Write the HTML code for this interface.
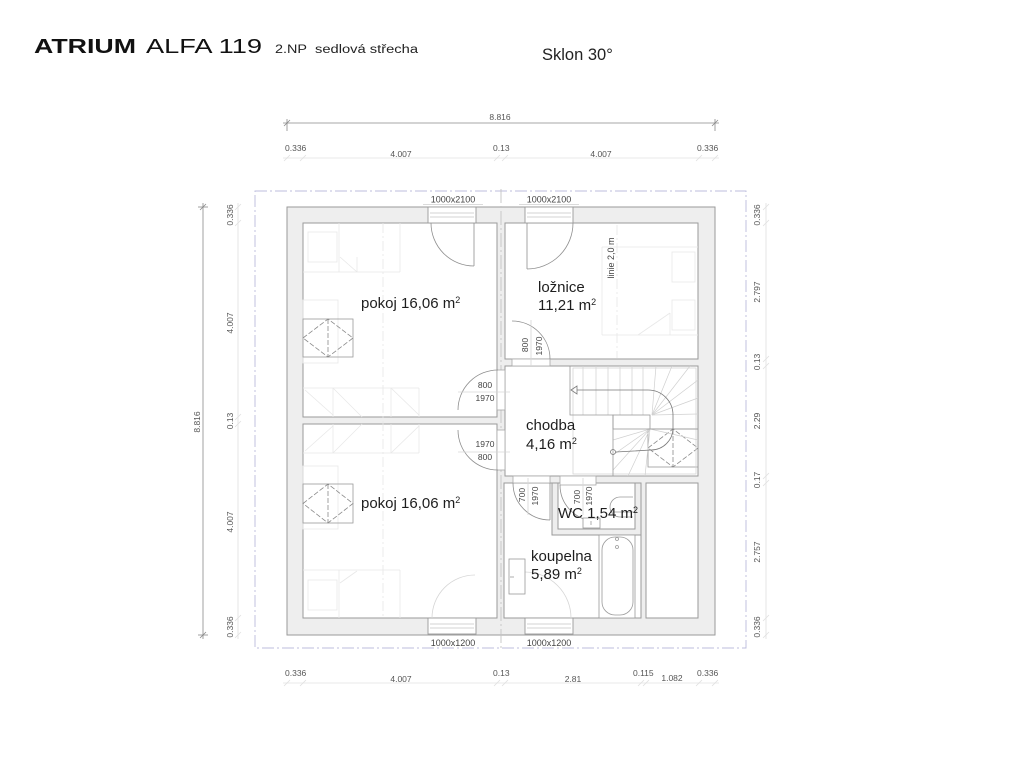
<!DOCTYPE html>
<html><head><meta charset="utf-8"><style>
html,body{margin:0;padding:0;background:#fff;}
svg{display:block;}
text{font-family:"Liberation Sans",sans-serif;}
</style></head><body>
<svg width="1024" height="768" viewBox="0 0 1024 768" xmlns="http://www.w3.org/2000/svg">
<rect width="1024" height="768" fill="#fff"/>

<!-- Title -->
<text x="34" y="53" font-size="20" font-weight="bold" fill="#111" textLength="102" lengthAdjust="spacingAndGlyphs">ATRIUM</text>
<text x="146" y="53" font-size="20" fill="#111" textLength="116" lengthAdjust="spacingAndGlyphs">ALFA 119</text>
<text x="275" y="53" font-size="11.5" fill="#222" textLength="32" lengthAdjust="spacingAndGlyphs">2.NP</text>
<text x="315" y="53" font-size="11.5" fill="#222" textLength="103" lengthAdjust="spacingAndGlyphs">sedlová střecha</text>
<text x="542" y="60" font-size="16.5" fill="#222">Sklon 30°</text>

<!-- Top dimensions -->
<g stroke="#8a8a8a" stroke-width="0.8">
  <line x1="283" y1="123" x2="719" y2="123"/>
  <line x1="287" y1="119" x2="287" y2="131"/>
  <line x1="715" y1="119" x2="715" y2="131"/>
  <line x1="284" y1="126" x2="290" y2="120"/>
  <line x1="712" y1="126" x2="718" y2="120"/>
</g>
<g stroke="#e0e0e0" stroke-width="0.8">
  <line x1="283" y1="158" x2="719" y2="158"/>
  <line x1="284" y1="161" x2="290" y2="155"/>
  <line x1="300" y1="161" x2="306" y2="155"/>
  <line x1="494" y1="161" x2="500" y2="155"/>
  <line x1="502" y1="161" x2="508" y2="155"/>
  <line x1="696" y1="161" x2="702" y2="155"/>
  <line x1="712" y1="161" x2="718" y2="155"/>
</g>
<g font-size="8.5" fill="#555">
  <text x="500" y="120" text-anchor="middle">8.816</text>
  <text x="285" y="151">0.336</text>
  <text x="401" y="157" text-anchor="middle">4.007</text>
  <text x="493" y="151">0.13</text>
  <text x="601" y="157" text-anchor="middle">4.007</text>
  <text x="697" y="151">0.336</text>
</g>

<!-- Bottom dimensions -->
<g stroke="#e0e0e0" stroke-width="0.8">
  <line x1="283" y1="683" x2="719" y2="683"/>
  <line x1="284" y1="686" x2="290" y2="680"/>
  <line x1="300" y1="686" x2="306" y2="680"/>
  <line x1="494" y1="686" x2="500" y2="680"/>
  <line x1="502" y1="686" x2="508" y2="680"/>
  <line x1="638" y1="686" x2="644" y2="680"/>
  <line x1="643" y1="686" x2="649" y2="680"/>
  <line x1="696" y1="686" x2="702" y2="680"/>
  <line x1="712" y1="686" x2="718" y2="680"/>
</g>
<g font-size="8.5" fill="#555">
  <text x="285" y="676">0.336</text>
  <text x="401" y="682" text-anchor="middle">4.007</text>
  <text x="493" y="676">0.13</text>
  <text x="573" y="682" text-anchor="middle">2.81</text>
  <text x="633" y="676">0.115</text>
  <text x="672" y="681" text-anchor="middle">1.082</text>
  <text x="697" y="676">0.336</text>
</g>

<!-- Left dimensions -->
<g stroke="#8a8a8a" stroke-width="0.8">
  <line x1="203" y1="203" x2="203" y2="639"/>
  <line x1="198" y1="207" x2="208" y2="207"/>
  <line x1="198" y1="635" x2="208" y2="635"/>
  <line x1="200" y1="210" x2="206" y2="204"/>
  <line x1="200" y1="638" x2="206" y2="632"/>
</g>
<g stroke="#e0e0e0" stroke-width="0.8">
  <line x1="238" y1="203" x2="238" y2="639"/>
  <line x1="235" y1="210" x2="241" y2="204"/>
  <line x1="235" y1="226" x2="241" y2="220"/>
  <line x1="235" y1="420" x2="241" y2="414"/>
  <line x1="235" y1="427" x2="241" y2="421"/>
  <line x1="235" y1="621" x2="241" y2="615"/>
  <line x1="235" y1="638" x2="241" y2="632"/>
</g>
<g font-size="8.5" fill="#555" text-anchor="middle">
  <text transform="translate(200,422) rotate(-90)">8.816</text>
  <text transform="translate(233,215) rotate(-90)">0.336</text>
  <text transform="translate(233,323) rotate(-90)">4.007</text>
  <text transform="translate(233,421) rotate(-90)">0.13</text>
  <text transform="translate(233,522) rotate(-90)">4.007</text>
  <text transform="translate(233,627) rotate(-90)">0.336</text>
</g>

<!-- Right dimensions -->
<g stroke="#e0e0e0" stroke-width="0.8">
  <line x1="766" y1="203" x2="766" y2="639"/>
  <line x1="763" y1="210" x2="769" y2="204"/>
  <line x1="763" y1="226" x2="769" y2="220"/>
  <line x1="763" y1="362" x2="769" y2="356"/>
  <line x1="763" y1="369" x2="769" y2="363"/>
  <line x1="763" y1="479" x2="769" y2="473"/>
  <line x1="763" y1="486" x2="769" y2="480"/>
  <line x1="763" y1="621" x2="769" y2="615"/>
  <line x1="763" y1="638" x2="769" y2="632"/>
</g>
<g font-size="8.5" fill="#555" text-anchor="middle">
  <text transform="translate(760,215) rotate(-90)">0.336</text>
  <text transform="translate(760,292) rotate(-90)">2.797</text>
  <text transform="translate(760,362) rotate(-90)">0.13</text>
  <text transform="translate(760,421) rotate(-90)">2.29</text>
  <text transform="translate(760,480) rotate(-90)">0.17</text>
  <text transform="translate(760,552) rotate(-90)">2.757</text>
  <text transform="translate(760,627) rotate(-90)">0.336</text>
</g>

<!-- dash-dot boundary -->
<rect x="255" y="191" width="491" height="457" fill="none" stroke="#bcbcdc" stroke-width="0.9" stroke-dasharray="12 3 2 3"/>

<!-- Building walls -->
<rect x="287" y="207" width="428" height="428" fill="#eeeeee" stroke="#9a9a9a" stroke-width="1"/>

<!-- Rooms -->
<g fill="#fff" stroke="#9a9a9a" stroke-width="1">
  <rect x="303" y="223" width="194" height="194"/>
  <rect x="303" y="424" width="194" height="194"/>
  <rect x="505" y="223" width="193" height="136"/>
  <rect x="505" y="366" width="193" height="110"/>
  <rect x="504" y="483" width="137" height="135"/>
  <rect x="646" y="483" width="52" height="135"/>
</g>
<!-- WC walls -->
<rect x="552" y="483" width="89" height="52" fill="#eeeeee" stroke="#9a9a9a" stroke-width="1"/>
<rect x="558" y="483" width="77" height="46" fill="#fff" stroke="#9a9a9a" stroke-width="1"/>

<!-- center line -->
<line x1="501" y1="189" x2="501" y2="650" stroke="#c4c4c4" stroke-width="0.9" stroke-dasharray="14 3 2 3"/>
<line x1="383" y1="223" x2="383" y2="618" stroke="#e6e6e6" stroke-width="0.8" stroke-dasharray="10 3 2 3"/>
<line x1="617" y1="225" x2="617" y2="358" stroke="#e6e6e6" stroke-width="0.8" stroke-dasharray="10 3 2 3"/>

<!-- Openings in outer walls -->
<g fill="#fff" stroke="#9a9a9a" stroke-width="0.9">
  <rect x="428" y="207" width="48" height="16"/>
  <rect x="525" y="207" width="48" height="16"/>
  <rect x="428" y="618" width="48" height="16"/>
  <rect x="525" y="618" width="48" height="16"/>
</g>
<g stroke="#c4c4c4" stroke-width="0.7">
  <line x1="430" y1="213" x2="474" y2="213"/><line x1="430" y1="217" x2="474" y2="217"/>
  <line x1="527" y1="213" x2="571" y2="213"/><line x1="527" y1="217" x2="571" y2="217"/>
  <line x1="430" y1="624" x2="474" y2="624"/><line x1="430" y1="628" x2="474" y2="628"/>
  <line x1="527" y1="624" x2="571" y2="624"/><line x1="527" y1="628" x2="571" y2="628"/>
</g>
<g font-size="9" fill="#444" text-anchor="middle">
  <text x="453" y="202.5">1000x2100</text>
  <text x="549" y="202.5">1000x2100</text>
  <text x="453" y="646">1000x1200</text>
  <text x="549" y="646">1000x1200</text>
</g>
<g stroke="#cfcfcf" stroke-width="0.8">
  <line x1="423" y1="204.5" x2="483" y2="204.5"/>
  <line x1="519" y1="204.5" x2="579" y2="204.5"/>
</g>

<!-- Interior door gaps -->
<g fill="#fff" stroke="#a8a8a8" stroke-width="0.8">
  <rect x="497" y="370" width="8" height="40"/>
  <rect x="497" y="430" width="8" height="40"/>
  <rect x="512" y="359" width="38" height="7"/>
  <rect x="513" y="476" width="37" height="7"/>
  <rect x="560" y="476" width="36" height="9"/>
</g>

<!-- Door leaves & arcs -->
<g fill="none" stroke="#8f8f8f" stroke-width="0.8">
  <line x1="474" y1="223" x2="474" y2="266"/>
  <path d="M431,223 A43,43 0 0 0 474,266"/>
  <line x1="527" y1="223" x2="527" y2="269"/>
  <path d="M573,223 A46,46 0 0 1 527,269"/>
  <path d="M498,370 A40,40 0 0 0 458,410"/>
  <path d="M458,430 A40,40 0 0 0 498,470"/>
  <path d="M512,321 A38,38 0 0 1 550,359"/>
  <line x1="550" y1="483" x2="550" y2="520"/>
  <path d="M513,483 A37,37 0 0 0 550,520"/>
  <path d="M560,485 A36,36 0 0 0 596,521"/>
</g>
<g fill="none" stroke="#d6d6d6" stroke-width="0.8">
  <path d="M475,575 A43,43 0 0 0 432,618"/>
  <path d="M525,572 A46,46 0 0 1 571,618"/>
  <line x1="458" y1="392" x2="510" y2="392"/>
  <line x1="458" y1="452" x2="510" y2="452"/>
  <line x1="531" y1="320" x2="531" y2="366"/>
  <line x1="528" y1="478" x2="528" y2="515"/>
  <line x1="583" y1="478" x2="583" y2="515"/>
</g>
<g font-size="8.5" fill="#444" text-anchor="middle">
  <text x="485" y="388">800</text>
  <text x="485" y="401">1970</text>
  <text x="485" y="447">1970</text>
  <text x="485" y="460">800</text>
  <text transform="translate(528,345) rotate(-90)">800</text>
  <text transform="translate(542,346) rotate(-90)">1970</text>
  <text transform="translate(525,495) rotate(-90)">700</text>
  <text transform="translate(538,496) rotate(-90)">1970</text>
  <text transform="translate(580,497) rotate(-90)">700</text>
  <text transform="translate(592,496) rotate(-90)">1970</text>
  <text transform="translate(614,258) rotate(-90)" font-size="9">linie 2,0 m</text>
</g>

<!-- Faint furniture -->
<g fill="none" stroke="#e8e8e8" stroke-width="0.8">
  <rect x="308" y="232" width="29" height="30"/>
  <line x1="339" y1="223" x2="339" y2="272"/>
  <line x1="400" y1="223" x2="400" y2="272"/>
  <line x1="303" y1="272" x2="400" y2="272"/>
  <line x1="340" y1="257" x2="357" y2="272"/>
  <line x1="357" y1="257" x2="357" y2="272"/>
  <line x1="303" y1="388" x2="419" y2="388"/>
  <line x1="333" y1="388" x2="333" y2="417"/>
  <line x1="391" y1="388" x2="391" y2="417"/>
  <line x1="419" y1="388" x2="419" y2="417"/>
  <line x1="305" y1="390" x2="333" y2="415"/>
  <line x1="333" y1="388" x2="362" y2="417"/>
  <line x1="391" y1="388" x2="419" y2="415"/>
  <line x1="303" y1="453" x2="419" y2="453"/>
  <line x1="333" y1="424" x2="333" y2="453"/>
  <line x1="391" y1="424" x2="391" y2="453"/>
  <line x1="419" y1="424" x2="419" y2="453"/>
  <line x1="305" y1="451" x2="333" y2="426"/>
  <line x1="333" y1="453" x2="362" y2="424"/>
  <line x1="391" y1="453" x2="419" y2="426"/>
  <rect x="308" y="580" width="29" height="30"/>
  <line x1="339" y1="570" x2="339" y2="618"/>
  <line x1="400" y1="570" x2="400" y2="618"/>
  <line x1="303" y1="570" x2="400" y2="570"/>
  <line x1="340" y1="583" x2="357" y2="571"/>
  <rect x="303" y="300" width="35" height="63"/>
  <rect x="303" y="466" width="35" height="63"/>
  <line x1="602" y1="247" x2="698" y2="247"/>
  <line x1="602" y1="247" x2="602" y2="335"/>
  <line x1="602" y1="335" x2="698" y2="335"/>
  <rect x="672" y="252" width="23" height="30"/>
  <rect x="672" y="300" width="23" height="30"/>
  <line x1="638" y1="335" x2="670" y2="313"/>
  <line x1="670" y1="313" x2="670" y2="335"/>
</g>

<!-- Roof windows (dashed diamonds) -->
<g fill="none" stroke="#9a9a9a" stroke-width="0.8">
  <rect x="303" y="319" width="50" height="38"/>
  <rect x="303" y="484" width="50" height="39"/>
  <rect x="648" y="429" width="50" height="38"/>
</g>
<g fill="none" stroke="#8a8a8a" stroke-width="0.8" stroke-dasharray="5 2">
  <path d="M303,338 L328,319 L353,338 L328,357 Z"/>
  <line x1="328" y1="319" x2="328" y2="357"/>
  <path d="M303,503.5 L328,484 L353,503.5 L328,523 Z"/>
  <line x1="328" y1="484" x2="328" y2="523"/>
  <path d="M648,448 L673,429 L698,448 L673,467 Z"/>
  <line x1="673" y1="429" x2="673" y2="467"/>
</g>

<!-- Stairs -->
<g stroke="#d0d0d0" stroke-width="0.7" fill="none">
  <line x1="583" y1="366" x2="583" y2="415"/>
  <line x1="596" y1="366" x2="596" y2="415"/>
  <line x1="608" y1="366" x2="608" y2="415"/>
  <line x1="620" y1="366" x2="620" y2="415"/>
  <line x1="632" y1="366" x2="632" y2="415"/>
  <line x1="643" y1="366" x2="643" y2="415"/>
  <line x1="652" y1="415" x2="656" y2="366"/>
  <line x1="652" y1="415" x2="672" y2="366"/>
  <line x1="652" y1="415" x2="690" y2="366"/>
  <line x1="652" y1="415" x2="698" y2="380"/>
  <line x1="652" y1="415" x2="698" y2="398"/>
  <line x1="652" y1="415" x2="698" y2="414"/>
  <line x1="650" y1="429" x2="698" y2="440"/>
  <line x1="650" y1="429" x2="613" y2="440"/>
  <line x1="650" y1="429" x2="613" y2="455"/>
  <line x1="650" y1="429" x2="613" y2="470"/>
  <line x1="650" y1="429" x2="628" y2="476"/>
  <line x1="650" y1="429" x2="645" y2="476"/>
  <rect x="573" y="368" width="123" height="106"/>
</g>
<g stroke="#9a9a9a" stroke-width="0.8" fill="none">
  <polyline points="570,366 570,415 613,415 613,476"/>
  <rect x="613" y="415" width="37" height="14"/>
  <line x1="650" y1="429" x2="698" y2="429"/>
</g>
<g stroke="#7a7a7a" stroke-width="0.8" fill="none">
  <path d="M577,390 L648,390 A25,25 0 0 1 673,415 L673,428 A22,22 0 0 1 651,450 L616,452"/>
  <circle cx="613" cy="452" r="2.5"/>
  <polygon points="571,390 577,386 577,394"/>
</g>

<!-- Bathroom fixtures -->
<g fill="#fff" stroke="#9a9a9a" stroke-width="0.8">
  <rect x="599" y="535" width="36" height="83"/>
  <rect x="602" y="537" width="31" height="78" rx="13"/>
  <rect x="509" y="559" width="16" height="35"/>
  <rect x="583" y="518" width="17" height="10"/>
</g>
<g fill="none" stroke="#9a9a9a" stroke-width="0.8">
  <circle cx="617" cy="539" r="1.5"/>
  <circle cx="617" cy="547" r="1.5"/>
  <line x1="510" y1="577" x2="514" y2="577"/>
  <path d="M633,497 L620,497 A10,10 0 0 0 620,517 L633,517"/>
  <line x1="610" y1="512" x2="637" y2="512"/>
  <line x1="591" y1="521" x2="591" y2="525"/>
</g>

<!-- Room labels -->
<g font-size="15" fill="#1e1e1e">
  <text x="361" y="308">pokoj 16,06 m<tspan dy="-5" font-size="9">2</tspan></text>
  <text x="361" y="508">pokoj 16,06 m<tspan dy="-5" font-size="9">2</tspan></text>
  <text x="538" y="292">ložnice</text>
  <text x="538" y="310">11,21 m<tspan dy="-5" font-size="9">2</tspan></text>
  <text x="526" y="430">chodba</text>
  <text x="526" y="449">4,16 m<tspan dy="-5" font-size="9">2</tspan></text>
  <text x="558" y="518">WC 1,54 m<tspan dy="-5" font-size="9">2</tspan></text>
  <text x="531" y="561">koupelna</text>
  <text x="531" y="579">5,89 m<tspan dy="-5" font-size="9">2</tspan></text>
</g>
</svg>
</body></html>
